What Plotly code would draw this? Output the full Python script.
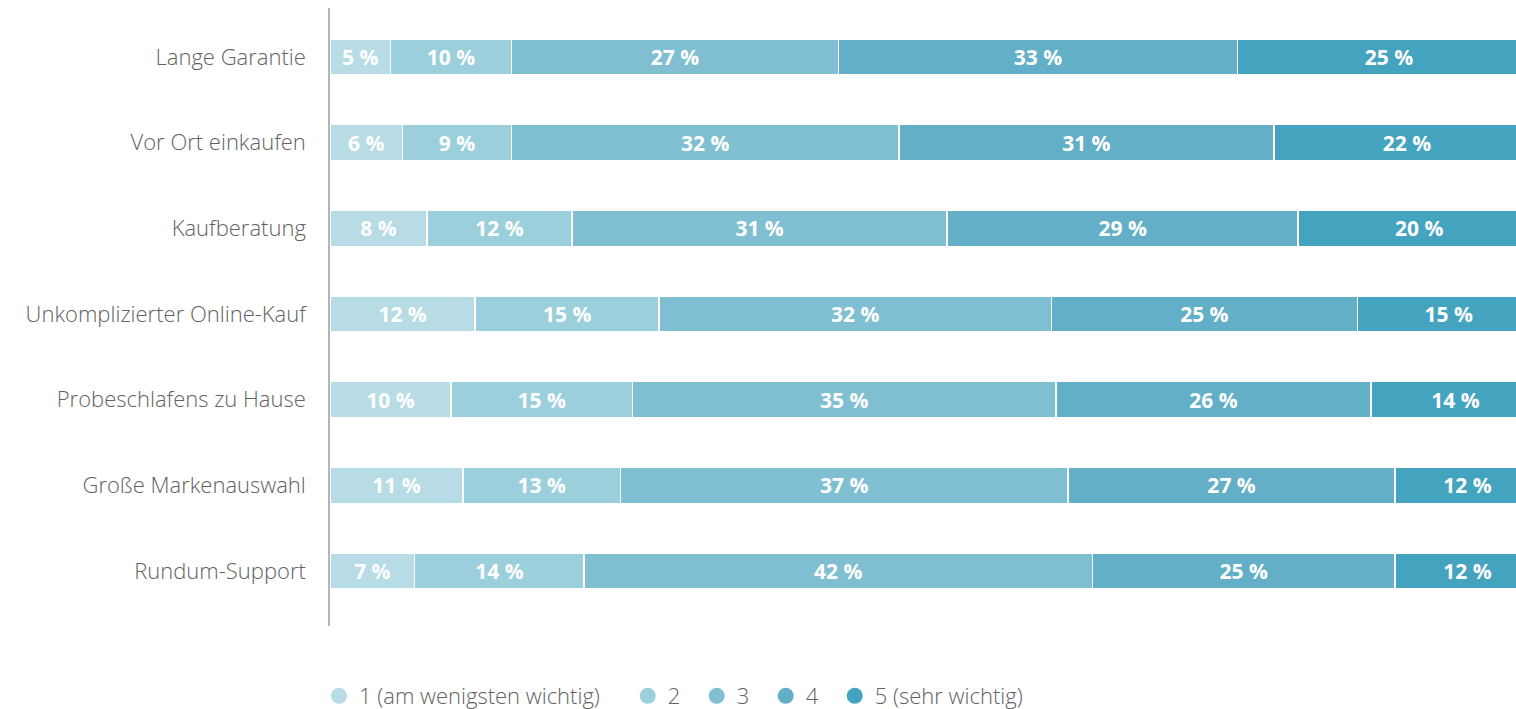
import plotly.graph_objects as go

categories = [
    "Lange Garantie",
    "Vor Ort einkaufen",
    "Kaufberatung",
    "Unkomplizierter Online-Kauf",
    "Probeschlafens zu Hause",
    "Große Markenauswahl",
    "Rundum-Support",
]
series_names = ["1 (am wenigsten wichtig)", "2", "3", "4", "5 (sehr wichtig)"]
s1 = [5, 6, 8, 12.0, 10, 11, 7]
s2 = [10, 9, 12, 15.2, 15, 13, 14]
s3 = [27, 32, 31, 32.4, 35, 37, 42]
s4 = [33, 31, 29, 25.3, 26, 27, 25]
s5 = [25, 22, 20, 15.1, 14, 12, 12]
series_values = [s1, s2, s3, s4, s5]
colors = ["#b7dce5", "#9ccfdc", "#7fbfd1", "#62afc7", "#44a3bf"]

FONT = "Open Sans"
GREY = "#626262"

fig = go.Figure()
for name, vals, col in zip(series_names, series_values, colors):
    fig.add_trace(go.Bar(
        y=categories, x=vals, orientation="h", name=name,
        marker=dict(color=col, line=dict(color="white", width=1.5)),
        text=[f"{round(v)} %" for v in vals],
        textposition="inside", insidetextanchor="middle",
        textangle=0, constraintext="none",
        textfont=dict(family=FONT, size=21, color="white", weight="bold"),
        showlegend=False, hoverinfo="skip",
    ))
for i, (name, col) in enumerate(zip(series_names, colors)):
    pad = "\u00a0" * (4 if i == 0 else 2)
    fig.add_trace(go.Scatter(
        x=[None], y=[None], mode="markers",
        name=name + pad,
        marker=dict(symbol="circle", size=16, color=col),
        showlegend=True,
    ))

fig.update_layout(
    width=1516, height=709,
    margin=dict(l=330, r=0, t=8, b=83),
    barmode="stack", bargap=0.58,
    plot_bgcolor="white", paper_bgcolor="white",
    font=dict(family=FONT, size=22, color=GREY, weight=300),
    uniformtext=dict(minsize=21, mode="show"),
    legend=dict(
        orientation="h", x=-0.0093, xanchor="left",
        yref="container", y=13 / 709, yanchor="middle",
        font=dict(family=FONT, size=22, color=GREY, weight=300),
        traceorder="normal", itemclick=False,
    ),
)
fig.update_xaxes(range=[0, 98], visible=False, fixedrange=True)
fig.update_yaxes(
    categoryorder="array", categoryarray=categories,
    range=[6.641, -0.571], showline=True, linecolor="#b5b5b5", linewidth=1.5,
    showgrid=False, zeroline=False, ticks="", ticklabelstandoff=18,
    tickfont=dict(family=FONT, size=22, color=GREY, weight=300),
    fixedrange=True,
)

fig.write_html(
    "out.html",
    config={"displayModeBar": False},
    post_script="document.body.style.margin='0px';document.body.style.overflow='hidden';",
)
